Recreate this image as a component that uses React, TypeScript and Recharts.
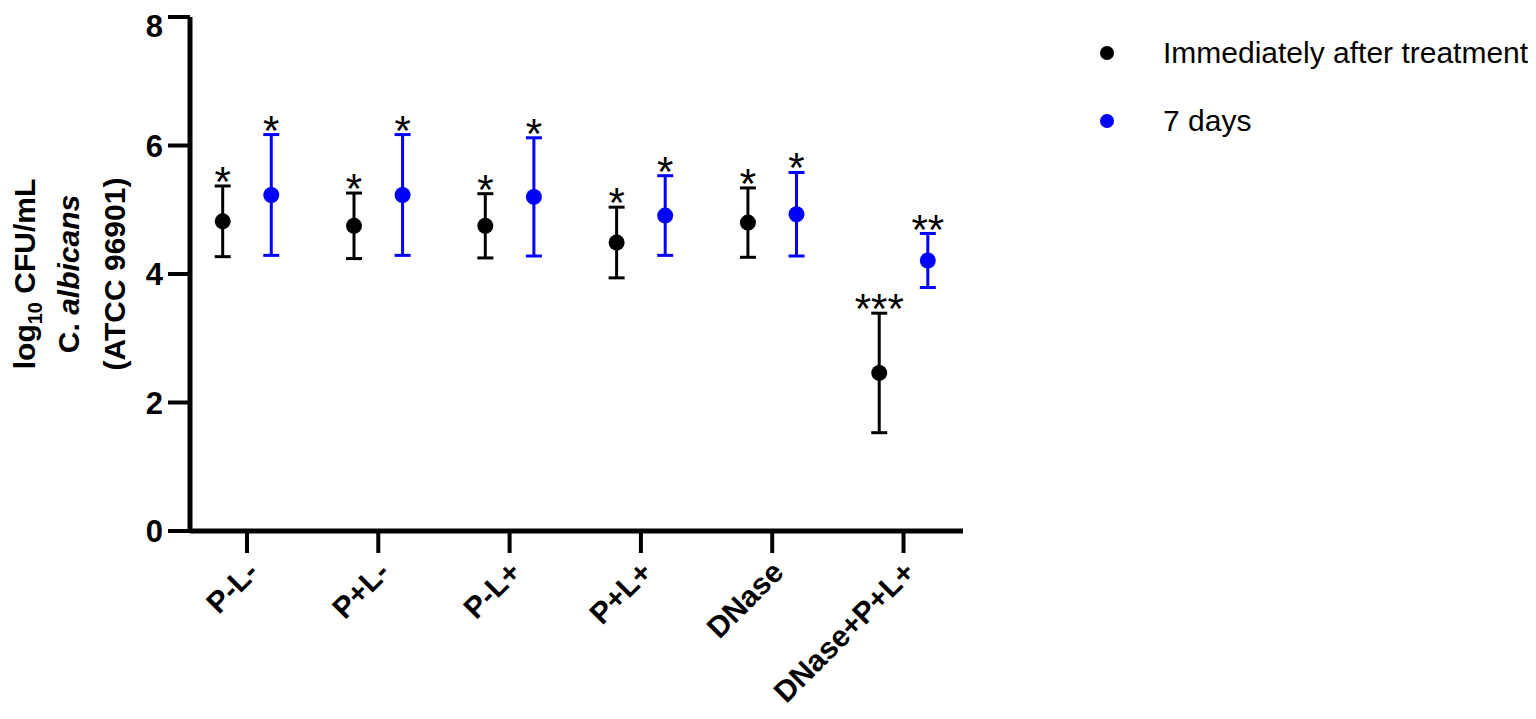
import React from "react";
import { ScatterChart, Scatter, XAxis, YAxis, ErrorBar, Legend } from "recharts";

// groups along the x axis
const categories = ["P-L-", "P+L-", "P-L+", "P+L+", "DNase", "DNase+P+L+"];

// log10 CFU/mL, mean and SD
const immediateMean = [4.82, 4.75, 4.75, 4.49, 4.8, 2.46];
const immediateSd = [0.55, 0.51, 0.5, 0.55, 0.54, 0.93];
const immediateSig = ["*", "*", "*", "*", "*", "***"];

const daysMean = [5.23, 5.23, 5.2, 4.91, 4.93, 4.21];
const daysSd = [0.94, 0.94, 0.92, 0.62, 0.65, 0.42];
const daysSig = ["*", "*", "*", "*", "*", "**"];

const yTicks = [0, 2, 4, 6, 8];
const seriesNames = ["Immediately after treatment", "7 days"];

const FONT = '"Liberation Sans", Arial, sans-serif';
const BLACK = "#000000";
const BLUE = "#0000ff";
const DODGE = 0.185;

type Row = { x: number; y: number; sd: number; sig: string; top: number };

function buildRows(mean: number[], sd: number[], sig: string[], offset: number): Row[] {
  return mean.map((m, i) => ({
    x: i + 1 + offset,
    y: m,
    sd: sd[i],
    sig: sig[i],
    top: m + sd[i],
  }));
}

const immediateRows = buildRows(immediateMean, immediateSd, immediateSig, -DODGE);
const daysRows = buildRows(daysMean, daysSd, daysSig, DODGE);

const dot = (color: string) => (props: any) =>
  <circle cx={props.cx} cy={props.cy} r={8} fill={color} />;

const stars = (props: any) => (
  <text
    x={props.cx}
    y={props.cy + 10}
    textAnchor="middle"
    fontFamily={FONT}
    fontSize={42}
    fill={BLACK}
  >
    {props.payload.sig}
  </text>
);

function XTick(props: any) {
  const { x, y, payload } = props;
  const label = categories[Math.round(payload.value) - 1];
  return (
    <g transform={`translate(${x + 13},${y + 19})`}>
      <text
        transform="rotate(-45)"
        textAnchor="end"
        fontFamily={FONT}
        fontWeight="bold"
        fontSize={30}
        fill={BLACK}
      >
        {label}
      </text>
    </g>
  );
}

function YLabel(props: any) {
  const vb = props.viewBox || { x: 0, y: 9, width: 182, height: 514 };
  const cy = vb.y + vb.height / 2;
  const common = {
    textAnchor: "middle" as const,
    fontFamily: FONT,
    fontWeight: "bold" as const,
    fontSize: 30,
    fill: BLACK,
  };
  return (
    <g>
      <text {...common} transform={`translate(${vb.x + 27},${cy}) rotate(-90)`}>
        log
        <tspan fontSize={20} dy={7}>10</tspan>
        <tspan dy={-7}> CFU/mL</tspan>
      </text>
      <text {...common} transform={`translate(${vb.x + 71},${cy}) rotate(-90)`}>
        C. <tspan fontStyle="italic">albicans</tspan>
      </text>
      <text {...common} transform={`translate(${vb.x + 117},${cy}) rotate(-90)`}>
        (ATCC 96901)
      </text>
    </g>
  );
}

function LegendBox() {
  const colors = [BLACK, BLUE];
  return (
    <div
      style={{
        width: 420,
        height: 140,
        fontFamily: FONT,
        fontSize: 30,
        color: BLACK,
        whiteSpace: "nowrap",
      }}
    >
      {seriesNames.map((name, i) => (
        <div key={name} style={{ display: "flex", alignItems: "center", height: 68 }}>
          <span
            style={{
              display: "inline-block",
              flex: "none",
              width: 14,
              height: 14,
              borderRadius: "50%",
              background: colors[i],
              marginRight: 49,
            }}
          />
          <span>{name}</span>
        </div>
      ))}
    </div>
  );
}

export default function App() {
  return (
    <div style={{ width: 1520, height: 703 }}>
      <ScatterChart
        width={1520}
        height={703}
        margin={{ top: 9, right: 145, bottom: 0, left: 0 }}
      >
        <XAxis
          type="number"
          dataKey="x"
          domain={[0.566, 6.453]}
          ticks={[1, 2, 3, 4, 5, 6]}
          allowDataOverflow
          height={180}
          tickSize={22}
          axisLine={{ stroke: BLACK, strokeWidth: 5 }}
          tickLine={{ stroke: BLACK, strokeWidth: 4 }}
          tick={<XTick />}
        />
        <YAxis
          type="number"
          dataKey="y"
          domain={[0, 8]}
          ticks={yTicks}
          width={182}
          tickSize={22}
          tickMargin={5}
          axisLine={{ stroke: BLACK, strokeWidth: 5 }}
          tickLine={{ stroke: BLACK, strokeWidth: 4 }}
          tick={{ fill: BLACK, fontSize: 31, fontWeight: "bold", fontFamily: FONT }}
          label={<YLabel />}
        />
        <Legend
          layout="vertical"
          align="right"
          verticalAlign="top"
          content={() => <LegendBox />}
          wrapperStyle={{ left: 1092, top: 11 }}
        />
        <Scatter
          name={seriesNames[0]}
          data={immediateRows}
          dataKey="y"
          fill={BLACK}
          shape={dot(BLACK)}
          isAnimationActive={false}
        >
          <ErrorBar dataKey="sd" direction="y" width={8} stroke={BLACK} strokeWidth={3} />
        </Scatter>
        <Scatter
          name={seriesNames[1]}
          data={daysRows}
          dataKey="y"
          fill={BLUE}
          shape={dot(BLUE)}
          isAnimationActive={false}
        >
          <ErrorBar dataKey="sd" direction="y" width={8} stroke={BLUE} strokeWidth={3} />
        </Scatter>
        <Scatter
          data={immediateRows.map((r) => ({ ...r, y: r.top }))}
          dataKey="y"
          shape={stars}
          legendType="none"
          isAnimationActive={false}
        />
        <Scatter
          data={daysRows.map((r) => ({ ...r, y: r.top }))}
          dataKey="y"
          shape={stars}
          legendType="none"
          isAnimationActive={false}
        />
      </ScatterChart>
    </div>
  );
}
